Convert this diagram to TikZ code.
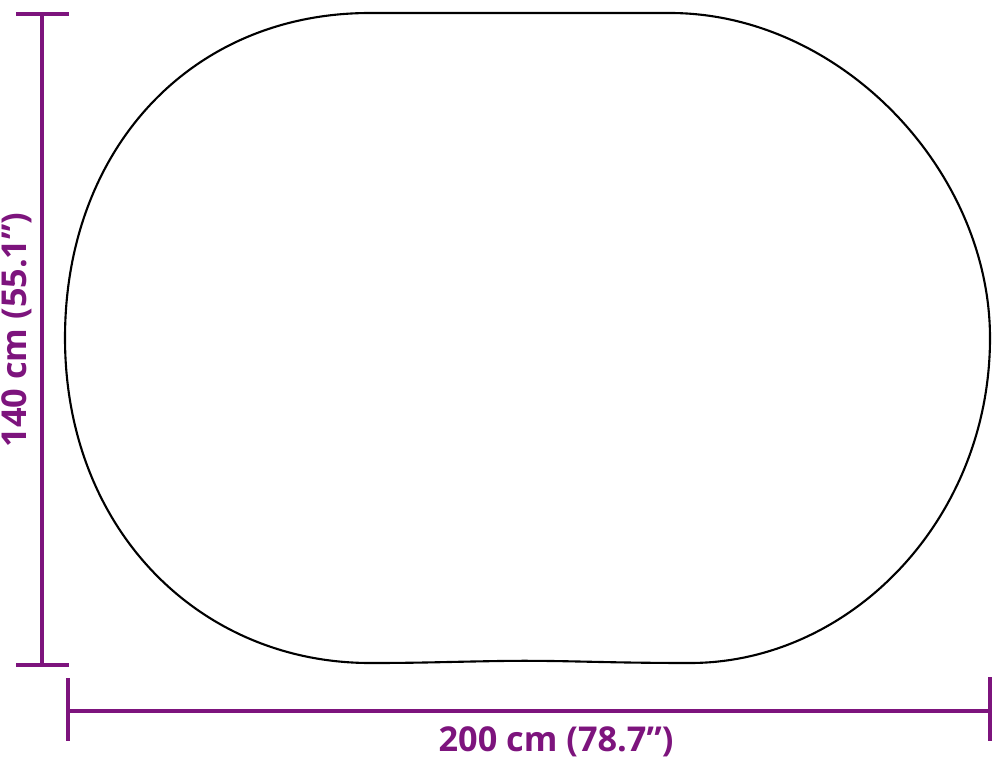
\documentclass[tikz,border=0pt]{standalone}
\usepackage{fontspec}
\setmainfont{Open Sans}
\usepackage{tikz}
\definecolor{dimpurple}{RGB}{125,20,125}

\begin{document}
\begin{tikzpicture}[x=0.2mm,y=-0.2mm]
	\tikzstyle{dimline}=[draw=dimpurple,line width=2pt]
	\tikzstyle{dimlabel}=[text=dimpurple,font=\bfseries\fontsize{19.5}{23}\selectfont,inner sep=0pt]
	\useasboundingbox (0,0) rectangle (1000,769);
	% rug outline
	\draw[line width=1.2pt] (65,338) .. controls (65,150) and (190,13) .. (370,13)
		-- (670,13) .. controls (840,13) and (990,170) .. (990,338)
		.. controls (990,520) and (850,663) .. (690,663)
		.. controls (600,663) and (560,660) .. (500,661)
		.. controls (440,662) and (420,663) .. (370,663)
		.. controls (200,663) and (65,530) .. (65,338) -- cycle;
	% height
	\coordinate (h1) at (42,14);
	\coordinate (h2) at (42,665);
	\coordinate (h1l) at (16,14);
	\coordinate (h1r) at (69,14);
	\coordinate (h2l) at (16,665);
	\coordinate (h2r) at (69,665);
	\draw[dimline] (h1) -- (h2);
	\draw[dimline] (h1l) -- (h1r);
	\draw[dimline] (h2l) -- (h2r);
	\node[dimlabel,rotate=90](hlabel) at (17,330) {140 cm (55.1”)};
	% width
	\coordinate (w1) at (68,711);
	\coordinate (w2) at (990,711);
	\coordinate (w1t) at (68,678);
	\coordinate (w1b) at (68,741);
	\coordinate (w2t) at (990,677);
	\coordinate (w2b) at (990,741);
	\draw[dimline] (w1) -- (w2);
	\draw[dimline] (w1t) -- (w1b);
	\draw[dimline] (w2t) -- (w2b);
	\node[dimlabel](wlabel) at (556,742) {200 cm (78.7”)};
\end{tikzpicture}
\end{document}
